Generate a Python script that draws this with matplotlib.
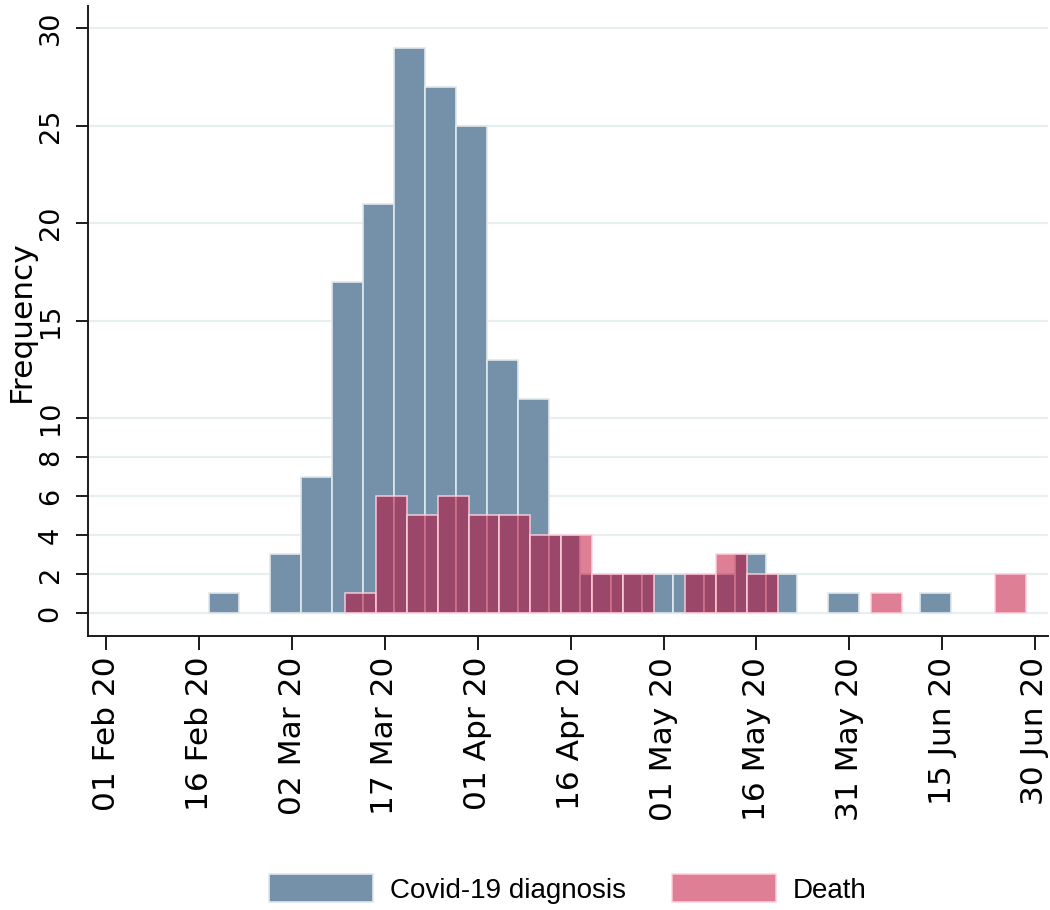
import datetime as dt

import matplotlib
matplotlib.use("Agg")
import matplotlib.pyplot as plt
import matplotlib.dates as mdates
from matplotlib.patches import Patch

# Five-day bins; the first bin of each series starts half a day before its first date
bin_days = 5
diag_first_date = dt.date(2020, 2, 18)
diag_counts = [1, 0, 3, 7, 17, 21, 29, 27, 25, 13, 11, 4,
               2, 2, 2, 2, 2, 3, 2, 0, 1, 0, 0, 1]
death_first_date = dt.date(2020, 3, 11)
death_counts = [1, 6, 5, 6, 5, 5, 4, 4, 2, 2, 0, 2,
                3, 2, 0, 0, 0, 1, 0, 0, 0, 2]

series_labels = ["Covid-19 diagnosis", "Death"]
y_ticks = [0, 2, 4, 6, 8, 10, 15, 20, 25, 30]
x_tick_start = dt.date(2020, 2, 1)
x_tick_step_days = 15
x_tick_count = 11

diag_face = "#7590a9"
diag_edge = "#dfe7ec"
death_face = (193 / 255, 0 / 255, 45 / 255, 0.5)
death_edge = (1.0, 0.82, 0.87, 0.85)
grid_color = "#e7eff1"
axis_color = "#1a1a1a"


def bin_edges(first_date, n):
    start = mdates.date2num(first_date) - 0.5
    return [start + i * bin_days for i in range(n)]


fig = plt.figure(figsize=(10.5, 9.1), dpi=100)
ax = fig.add_axes([88 / 1050, 274 / 910, 960 / 1050, 630 / 910])

for first, counts, face, edge in [
    (diag_first_date, diag_counts, diag_face, diag_edge),
    (death_first_date, death_counts, death_face, death_edge),
]:
    lefts = bin_edges(first, len(counts))
    xs = [x for x, c in zip(lefts, counts) if c > 0]
    hs = [c for c in counts if c > 0]
    ax.bar(xs, hs, width=bin_days, align="edge", color=face,
           edgecolor=edge, linewidth=1.2, zorder=2)

# Axes limits and ticks
t0 = mdates.date2num(x_tick_start)
ax.set_xlim(t0 - 2.97, t0 + 152.1)
ax.set_ylim(-1.18, 31.13)

x_ticks = [t0 + i * x_tick_step_days for i in range(x_tick_count)]
ax.set_xticks(x_ticks)
ax.set_xticklabels([mdates.num2date(t).strftime("%d %b %y") for t in x_ticks],
                   rotation=90, ha="center", va="top", fontsize=22.5,
                   family="DejaVu Sans")
ax.set_yticks(y_ticks)
ax.set_yticklabels([str(v) for v in y_ticks], rotation=90, va="center",
                   ha="right", fontsize=19.5, family="DejaVu Sans")

ax.tick_params(axis="x", length=10, width=1.4, color=axis_color, pad=5,
               direction="out")
ax.tick_params(axis="y", length=8.5, width=1.4, color=axis_color, pad=9,
               direction="out")

ax.set_axisbelow(True)
ax.yaxis.grid(True, color=grid_color, linewidth=1.6)
ax.xaxis.grid(False)

for side in ("top", "right"):
    ax.spines[side].set_visible(False)
for side in ("left", "bottom"):
    ax.spines[side].set_color(axis_color)
    ax.spines[side].set_linewidth(1.4)

ax.set_ylabel("Frequency", fontsize=22.5, family="DejaVu Sans")
ax.yaxis.set_label_coords((36 - 88) / 960, 0.5)

handles = [
    Patch(facecolor=diag_face, edgecolor=diag_edge, linewidth=1.2),
    Patch(facecolor=death_face, edgecolor=death_edge, linewidth=1.2),
]
fig.legend(handles, series_labels, loc="center", ncol=2, frameon=False,
           bbox_to_anchor=(568 / 1050, 21 / 910),
           prop={"family": "Liberation Sans", "size": 20},
           handlelength=3.74, handleheight=1.15, handletextpad=0.61,
           columnspacing=1.65)

fig.savefig("out.png", dpi=100, facecolor="white")
